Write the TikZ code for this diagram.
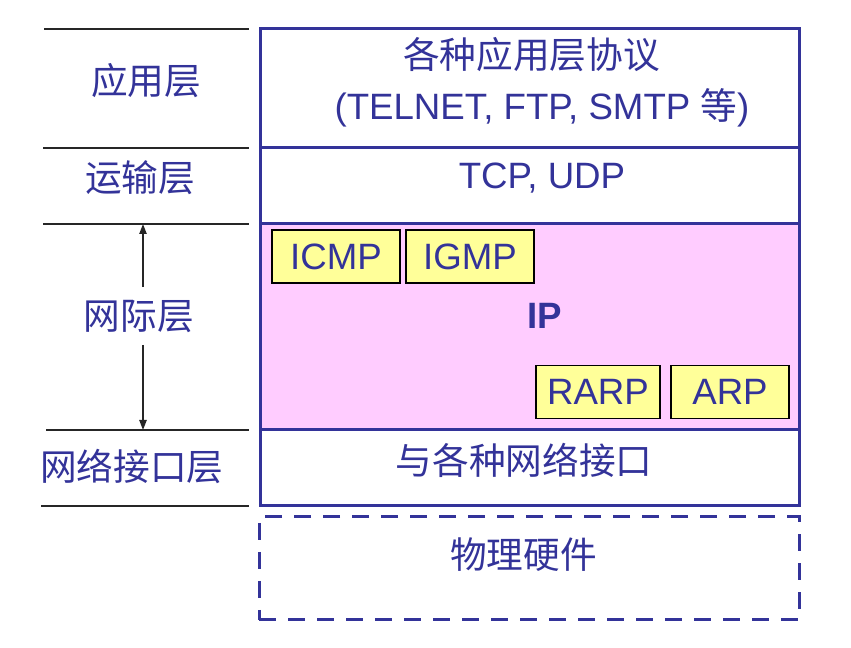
\documentclass[tikz,border=0pt]{standalone}
\usepackage{fontspec}
\setmainfont{Liberation Sans}
\newfontfamily\cjk{Noto Sans CJK SC}
\usepackage{tikz}
\usetikzlibrary{arrows.meta}
\definecolor{ink}{RGB}{51,51,153}
\definecolor{ipfill}{RGB}{255,204,255}
\definecolor{protofill}{RGB}{255,255,153}

\begin{document}
\begin{tikzpicture}[x=0.75pt,y=-0.75pt]
		\useasboundingbox (0,0) rectangle (851,648);
		\tikzstyle{every node}=[font=\fontsize{27.5pt}{33pt}\selectfont,text=ink]
		\tikzset{LayerStyle/.style = {draw=ink,line width=2.25pt,shape=rectangle,minimum width=404.25pt,inner sep=0pt}}
		\tikzset{ProtoStyle/.style = {draw=black,fill=protofill,line width=0.8pt,shape=rectangle,minimum height=39.75pt,inner sep=0pt}}
		\tikzset{RuleStyle/.style = {draw=black!85,line width=1.1pt}}
		\tikzset{ArrowStyle/.style = {draw=black!85,line width=1pt,-{Triangle[length=7.5pt,width=5.5pt]}}}
		% layers
		\node[LayerStyle,minimum height=89.25pt] (app) at (529.5,88.5) {};
		\node[LayerStyle,minimum height=57pt] (trans) at (529.5,186) {};
		\node[LayerStyle,fill=ipfill,minimum height=154.5pt] (ip) at (529.5,327) {};
		\node[LayerStyle,minimum height=57pt] (netif) at (529.5,468) {};
		\node[LayerStyle,dash pattern=on 12.75pt off 9pt,minimum width=405pt,minimum height=77.25pt] (phys) at (529,568.5) {};
		% texts
		\node (appText) at (531.5,55) {\cjk 各种应用层协议};
		\node (appProto) at (542,108) {(TELNET, FTP, SMTP {\cjk 等})};
		\node (transText) at (542,178) {TCP, UDP};
		\node[font=\fontsize{27.5pt}{33pt}\selectfont\bfseries] (ipText) at (545,316) {IP};
		\node (netifText) at (524,460) {\cjk 与各种网络接口};
		\node (physText) at (523.5,555) {\cjk 物理硬件};
		% protocols
		\node[ProtoStyle,minimum width=96pt] (icmp) at (336,256.5) {ICMP};
		\node[ProtoStyle,minimum width=96pt] (igmp) at (470,256.5) {IGMP};
		\node[ProtoStyle,minimum width=93pt] (rarp) at (598,392) {RARP};
		\node[ProtoStyle,minimum width=88.5pt] (arp) at (730,392) {ARP};
		% left side
		\draw[RuleStyle] (44,29) -- (249,29);
		\draw[RuleStyle] (43,148) -- (249,148);
		\draw[RuleStyle] (43,224) -- (249,224);
		\draw[RuleStyle] (46,430) -- (249,430);
		\draw[RuleStyle] (41,506) -- (249,506);
		\node (appLabel) at (146,81) {\cjk 应用层};
		\node (transLabel) at (140,177.5) {\cjk 运输层};
		\node[minimum height=42.75pt,inner sep=0pt] (ipLabel) at (139,316) {\cjk 网际层};
		\node (netifLabel) at (132,466.5) {\cjk 网络接口层};
		\coordinate (ipTop) at (143,224);
		\coordinate (ipBottom) at (143,430);
		\draw[ArrowStyle] (ipLabel.north -| ipTop) -- (ipTop);
		\draw[ArrowStyle] (ipLabel.south -| ipBottom) -- (ipBottom);
	\end{tikzpicture}
\end{document}
